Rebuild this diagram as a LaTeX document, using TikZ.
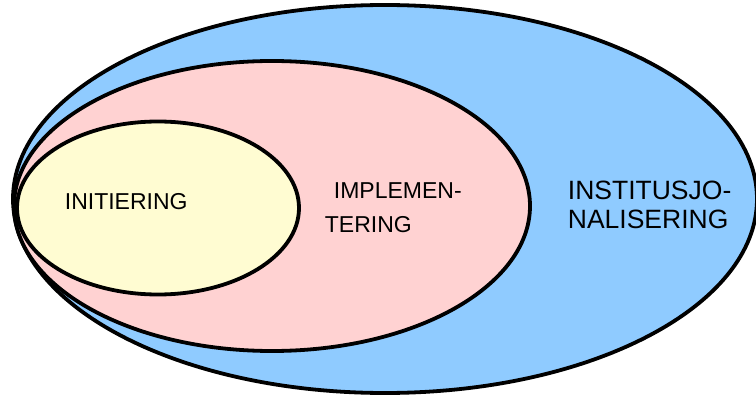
\documentclass[tikz,border=0pt]{standalone}
\usepackage{fontspec}
\setsansfont{Liberation Sans}
\usetikzlibrary{shapes.geometric}
\definecolor{instblue}{RGB}{143,203,255}
\definecolor{implpink}{RGB}{255,210,210}
\definecolor{inityellow}{RGB}{255,252,210}

\begin{document}
\begin{tikzpicture}[x=1pt,y=-1pt,line width=3.8pt,
  phase node/.style={ellipse,draw=black,inner sep=0pt},
  phase text/.style={font=\sffamily,align=left,inner sep=0pt,anchor=base west}]
  \useasboundingbox (0,0) rectangle (756,396);
  \clip (0,0) rectangle (756,396);

  \node[phase node,fill=instblue,minimum width=744pt,minimum height=388pt] (inst) at (385,199) {};
  \node[phase node,fill=implpink,minimum width=516pt,minimum height=290pt] (impl) at (272,206) {};
  \node[phase node,fill=inityellow,minimum width=282pt,minimum height=173pt] (init) at (158,208) {};

  \node[phase text,font=\sffamily\fontsize{23}{27}\selectfont] (initlabel) at (63,209) {INITIERING};
  \node[phase text,font=\sffamily\fontsize{23}{34}\selectfont] (impllabel) at (323,232) {\hspace{9pt}IMPLEMEN-\\TERING};
  \node[phase text,font=\sffamily\fontsize{26.5}{29}\selectfont] (instlabel) at (566,228) {INSTITUSJO-\\NALISERING};
\end{tikzpicture}
\end{document}
